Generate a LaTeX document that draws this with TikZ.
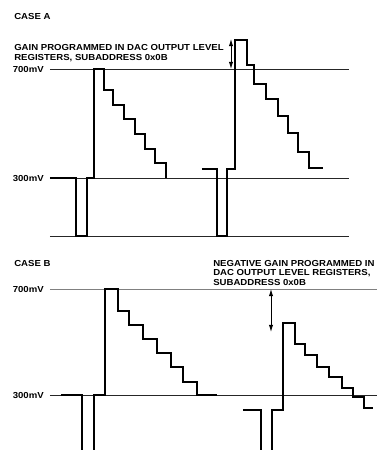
\documentclass[tikz,border=0pt]{standalone}
\usepackage{fontspec}
\setmainfont{Liberation Sans}[FakeStretch=1.1]
\usepackage{tikz}
\usetikzlibrary{arrows.meta}

\tikzset{
  lvl/.style={line width=0.6pt, black!85},
  wave/.style={line width=1.4pt, line join=miter},
  lbl/.style={inner sep=0pt, font={\fontsize{6.2}{6.9}\selectfont\bfseries}},
}

\begin{document}
\begin{tikzpicture}[x=0.025cm, y=-0.025cm, >={Latex[length=5pt,width=3pt]}]
				\useasboundingbox (0,0) rectangle (383,450);

				% case A
				\node[lbl, anchor=base west] (casea) at (14,19) {CASE A};
				\node[lbl, anchor=south west, align=left] (gaina) at (14,62) {GAIN PROGRAMMED IN DAC OUTPUT LEVEL\\REGISTERS, SUBADDRESS 0x0B};
				\node[lbl, anchor=east] (a700) at (44,69) {700mV};
				\node[lbl, anchor=east] (a300) at (44,178) {300mV};

				\draw[lvl] (50,69) -- (349,69);
				\draw[lvl] (50,178) -- (349,178);
				\draw[lvl] (50,236) -- (349,236);

				\draw[wave] (50,178) -| (76,236) -| (87,178) -| (94,69) -| (104,90) -| (113,105) -| (124,119) -| (135,134) -| (145,149) -| (155,163) -| (166,178);
				\draw[wave] (202,169) -| (217,236) -| (227,169) -| (235,40) -| (247,65) -| (254,84) -| (266,99) -| (278,116) -| (288,133) -| (298,152) -| (309,168) -- (323,168);

				\coordinate (at) at (231,39);
				\coordinate (ab) at (231,69);
				\draw[<->, line width=0.6pt] (at) -- (ab);

				% case B
				\node[lbl, anchor=base west] (caseb) at (14,266) {CASE B};
				\node[lbl, anchor=south west, align=left] (gainb) at (213,286) {NEGATIVE GAIN PROGRAMMED IN\\DAC OUTPUT LEVEL REGISTERS,\\SUBADDRESS 0x0B};
				\node[lbl, anchor=east] (b700) at (44,289) {700mV};
				\node[lbl, anchor=east] (b300) at (44,395) {300mV};

				\draw[lvl, black!50] (50,289) -- (377,289);
				\draw[lvl] (50,395) -- (377,395);

				\draw[wave] (61,395) -| (82,450);
				\draw[wave] (94,450) |- (105,395) |- (118,289) |- (129,311) |- (143,325) |- (157,339) |- (171,353) |- (183,367) |- (197,382) |- (217,395);
				\draw[wave] (243,410) -| (261,450);
				\draw[wave] (272,450) |- (283,410) |- (295,323) |- (305,344) |- (317,355) |- (329,367) |- (342,377) |- (353,388) |- (364,397) |- (373,408);

				\coordinate (bt) at (271,289);
				\coordinate (bb) at (271,332);
				\draw[<->, line width=0.6pt] (bt) -- (bb);
			\end{tikzpicture}
\end{document}
